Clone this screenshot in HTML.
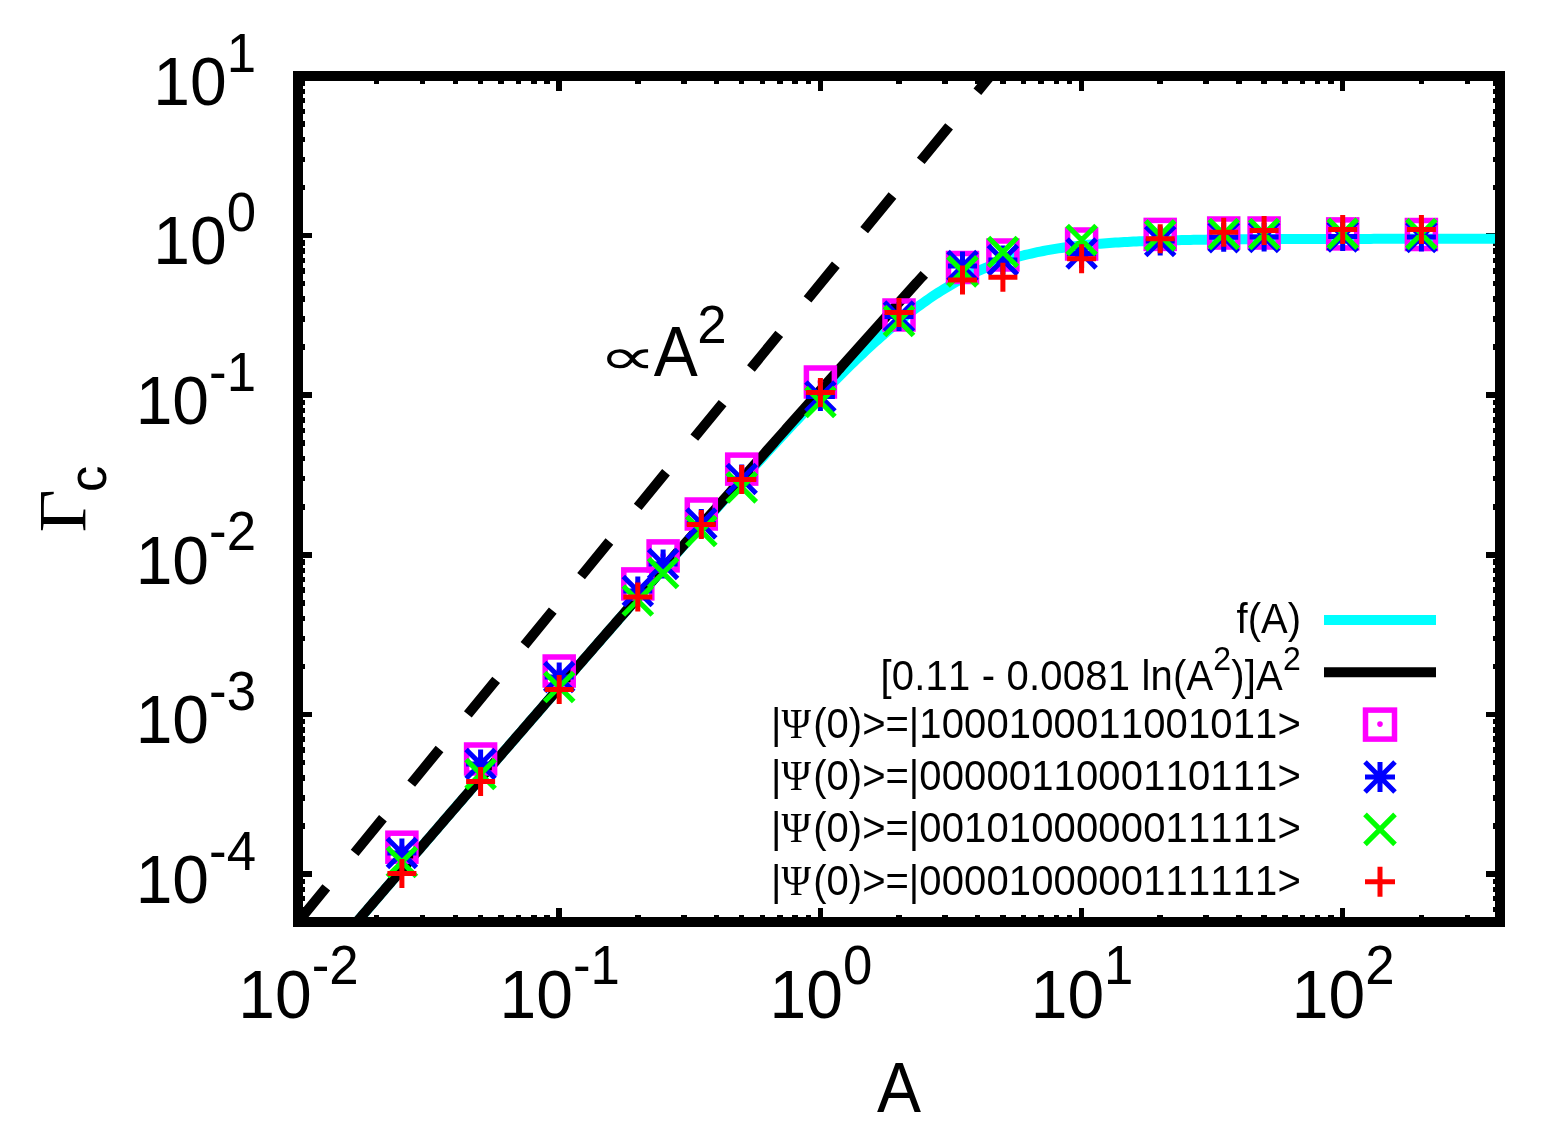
<!DOCTYPE html><html><head><meta charset="utf-8"><title>Gamma_c vs A</title>
<style>html,body{margin:0;padding:0;background:#fff;overflow:hidden}svg{display:block}text{font-family:"Liberation Sans",Arial,sans-serif;font-kerning:none;font-variant-ligatures:none;font-feature-settings:"kern" 0,"liga" 0}.sy{font-family:"Liberation Serif","DejaVu Serif",serif}.dj{font-family:"DejaVu Sans",sans-serif}</style></head><body>
<svg width="1545" height="1141" viewBox="0 0 1545 1141">
<rect width="1545" height="1141" fill="#fff"/>
<path d="M298.0 922.0V908.0M298.0 76.0V90.5M376.6 922.0V915.0M376.6 76.0V84.0M422.6 922.0V915.0M422.6 76.0V84.0M455.3 922.0V915.0M455.3 76.0V84.0M480.6 922.0V915.0M480.6 76.0V84.0M501.2 922.0V915.0M501.2 76.0V84.0M518.7 922.0V915.0M518.7 76.0V84.0M533.9 922.0V915.0M533.9 76.0V84.0M547.2 922.0V915.0M547.2 76.0V84.0M559.2 922.0V908.0M559.2 76.0V90.5M637.8 922.0V915.0M637.8 76.0V84.0M683.8 922.0V915.0M683.8 76.0V84.0M716.4 922.0V915.0M716.4 76.0V84.0M741.7 922.0V915.0M741.7 76.0V84.0M762.4 922.0V915.0M762.4 76.0V84.0M779.9 922.0V915.0M779.9 76.0V84.0M795.1 922.0V915.0M795.1 76.0V84.0M808.4 922.0V915.0M808.4 76.0V84.0M820.4 922.0V908.0M820.4 76.0V90.5M899.0 922.0V915.0M899.0 76.0V84.0M945.0 922.0V915.0M945.0 76.0V84.0M977.6 922.0V915.0M977.6 76.0V84.0M1002.9 922.0V915.0M1002.9 76.0V84.0M1023.6 922.0V915.0M1023.6 76.0V84.0M1041.1 922.0V915.0M1041.1 76.0V84.0M1056.3 922.0V915.0M1056.3 76.0V84.0M1069.6 922.0V915.0M1069.6 76.0V84.0M1081.6 922.0V908.0M1081.6 76.0V90.5M1160.2 922.0V915.0M1160.2 76.0V84.0M1206.2 922.0V915.0M1206.2 76.0V84.0M1238.8 922.0V915.0M1238.8 76.0V84.0M1264.1 922.0V915.0M1264.1 76.0V84.0M1284.8 922.0V915.0M1284.8 76.0V84.0M1302.3 922.0V915.0M1302.3 76.0V84.0M1317.4 922.0V915.0M1317.4 76.0V84.0M1330.8 922.0V915.0M1330.8 76.0V84.0M1342.7 922.0V908.0M1342.7 76.0V90.5M1421.4 922.0V915.0M1421.4 76.0V84.0M1467.4 922.0V915.0M1467.4 76.0V84.0M1500.0 922.0V915.0M1500.0 76.0V84.0M298.0 922.0H305.0M1500.0 922.0H1493.0M298.0 909.4H305.0M1500.0 909.4H1493.0M298.0 898.7H305.0M1500.0 898.7H1493.0M298.0 889.5H305.0M1500.0 889.5H1493.0M298.0 881.3H305.0M1500.0 881.3H1493.0M298.0 874.0H312.0M1500.0 874.0H1486.0M298.0 826.0H305.0M1500.0 826.0H1493.0M298.0 797.9H305.0M1500.0 797.9H1493.0M298.0 777.9H305.0M1500.0 777.9H1493.0M298.0 762.4H305.0M1500.0 762.4H1493.0M298.0 749.8H305.0M1500.0 749.8H1493.0M298.0 739.1H305.0M1500.0 739.1H1493.0M298.0 729.9H305.0M1500.0 729.9H1493.0M298.0 721.7H305.0M1500.0 721.7H1493.0M298.0 714.4H312.0M1500.0 714.4H1486.0M298.0 666.4H305.0M1500.0 666.4H1493.0M298.0 638.3H305.0M1500.0 638.3H1493.0M298.0 618.3H305.0M1500.0 618.3H1493.0M298.0 602.8H305.0M1500.0 602.8H1493.0M298.0 590.2H305.0M1500.0 590.2H1493.0M298.0 579.5H305.0M1500.0 579.5H1493.0M298.0 570.3H305.0M1500.0 570.3H1493.0M298.0 562.1H305.0M1500.0 562.1H1493.0M298.0 554.8H312.0M1500.0 554.8H1486.0M298.0 506.8H305.0M1500.0 506.8H1493.0M298.0 478.7H305.0M1500.0 478.7H1493.0M298.0 458.7H305.0M1500.0 458.7H1493.0M298.0 443.2H305.0M1500.0 443.2H1493.0M298.0 430.6H305.0M1500.0 430.6H1493.0M298.0 419.9H305.0M1500.0 419.9H1493.0M298.0 410.7H305.0M1500.0 410.7H1493.0M298.0 402.5H305.0M1500.0 402.5H1493.0M298.0 395.2H312.0M1500.0 395.2H1486.0M298.0 347.2H305.0M1500.0 347.2H1493.0M298.0 319.1H305.0M1500.0 319.1H1493.0M298.0 299.1H305.0M1500.0 299.1H1493.0M298.0 283.6H305.0M1500.0 283.6H1493.0M298.0 271.0H305.0M1500.0 271.0H1493.0M298.0 260.3H305.0M1500.0 260.3H1493.0M298.0 251.1H305.0M1500.0 251.1H1493.0M298.0 242.9H305.0M1500.0 242.9H1493.0M298.0 235.6H312.0M1500.0 235.6H1486.0M298.0 187.6H305.0M1500.0 187.6H1493.0M298.0 159.5H305.0M1500.0 159.5H1493.0M298.0 139.5H305.0M1500.0 139.5H1493.0M298.0 124.0H305.0M1500.0 124.0H1493.0M298.0 111.4H305.0M1500.0 111.4H1493.0M298.0 100.7H305.0M1500.0 100.7H1493.0M298.0 91.5H305.0M1500.0 91.5H1493.0M298.0 83.3H305.0M1500.0 83.3H1493.0M298.0 76.0H312.0M1500.0 76.0H1486.0" stroke="#000" stroke-width="5.5" fill="none" shape-rendering="crispEdges"/>
<defs><clipPath id="pa"><rect x="298.0" y="76.0" width="1202.0" height="846.0"/></clipPath></defs>
<g clip-path="url(#pa)">
<line x1="298.0" y1="922.0" x2="1003.21" y2="60.20" stroke="#000" stroke-width="10" stroke-dasharray="44.7 44.7"/>
<polyline points="298.00,990.37 301.00,986.87 304.01,983.37 307.02,979.87 310.02,976.36 313.02,972.86 316.03,969.36 319.03,965.86 322.04,962.36 325.05,958.86 328.05,955.36 331.06,951.86 334.06,948.37 337.07,944.87 340.07,941.37 343.07,937.87 346.08,934.38 349.08,930.88 352.09,927.39 355.10,923.89 358.10,920.40 361.11,916.90 364.11,913.41 367.12,909.92 370.12,906.42 373.12,902.93 376.13,899.44 379.13,895.95 382.14,892.46 385.14,888.97 388.15,885.48 391.15,881.99 394.16,878.50 397.17,875.01 400.17,871.52 403.18,868.04 406.18,864.55 409.19,861.06 412.19,857.58 415.20,854.09 418.20,850.61 421.20,847.12 424.21,843.64 427.22,840.16 430.22,836.67 433.23,833.19 436.23,829.71 439.24,826.23 442.24,822.75 445.25,819.27 448.25,815.79 451.25,812.31 454.26,808.83 457.27,805.35 460.27,801.88 463.27,798.40 466.28,794.92 469.28,791.45 472.29,787.97 475.30,784.50 478.30,781.02 481.31,777.55 484.31,774.08 487.32,770.61 490.32,767.14 493.33,763.67 496.33,760.20 499.33,756.73 502.34,753.26 505.35,749.79 508.35,746.32 511.36,742.85 514.36,739.39 517.37,735.92 520.37,732.46 523.38,728.99 526.38,725.53 529.38,722.07 532.39,718.61 535.39,715.14 538.40,711.68 541.40,708.22 544.41,704.76 547.42,701.31 550.42,697.85 553.42,694.39 556.43,690.94 559.43,687.48 562.44,684.03 565.45,680.57 568.45,677.12 571.45,673.67 574.46,670.22 577.47,666.77 580.47,663.32 583.48,659.87 586.48,656.42 589.49,652.97 592.49,649.53 595.50,646.08 598.50,642.64 601.50,639.20 604.51,635.76 607.52,632.32 610.52,628.88 613.53,625.44 616.53,622.00 619.53,618.56 622.54,615.13 625.55,611.70 628.55,608.26 631.56,604.83 634.56,601.40 637.57,597.97 640.57,594.55 643.58,591.12 646.58,587.70 649.59,584.27 652.59,580.85 655.60,577.43 658.60,574.01 661.61,570.60 664.61,567.18 667.62,563.77 670.62,560.36 673.62,556.95 676.63,553.54 679.63,550.14 682.64,546.73 685.64,543.33 688.65,539.93 691.66,536.54 694.66,533.14 697.66,529.75 700.67,526.36 703.68,522.98 706.68,519.59 709.68,516.21 712.69,512.84 715.70,509.46 718.70,506.09 721.70,502.72 724.71,499.36 727.72,496.00 730.72,492.64 733.72,489.29 736.73,485.94 739.74,482.60 742.74,479.26 745.75,475.93 748.75,472.60 751.76,469.27 754.76,465.96 757.76,462.64 760.77,459.34 763.78,456.04 766.78,452.74 769.79,449.45 772.79,446.17 775.80,442.90 778.80,439.64 781.81,436.38 784.81,433.13 787.82,429.89 790.82,426.66 793.83,423.44 796.83,420.23 799.84,417.03 802.84,413.84 805.85,410.66 808.85,407.50 811.86,404.34 814.86,401.20 817.87,398.07 820.87,394.96 823.88,391.86 826.88,388.78 829.88,385.72 832.89,382.67 835.90,379.63 838.90,376.62 841.90,373.62 844.91,370.65 847.92,367.69 850.92,364.76 853.93,361.85 856.93,358.96 859.94,356.09 862.94,353.25 865.94,350.44 868.95,347.65 871.96,344.89 874.96,342.15 877.96,339.45 880.97,336.77 883.98,334.13 886.98,331.51 889.99,328.93 892.99,326.39 896.00,323.88 899.00,321.40 902.00,318.96 905.01,316.55 908.02,314.19 911.02,311.86 914.02,309.57 917.03,307.33 920.04,305.12 923.04,302.95 926.04,300.83 929.05,298.75 932.06,296.71 935.06,294.71 938.06,292.76 941.07,290.86 944.08,289.00 947.08,287.18 950.09,285.41 953.09,283.68 956.10,282.00 959.10,280.36 962.11,278.77 965.11,277.22 968.12,275.72 971.12,274.26 974.12,272.85 977.13,271.48 980.14,270.15 983.14,268.86 986.14,267.62 989.15,266.42 992.16,265.26 995.16,264.14 998.16,263.06 1001.17,262.02 1004.18,261.01 1007.18,260.05 1010.19,259.11 1013.19,258.22 1016.20,257.36 1019.20,256.53 1022.20,255.73 1025.21,254.97 1028.22,254.24 1031.22,253.54 1034.22,252.86 1037.23,252.22 1040.24,251.60 1043.24,251.01 1046.24,250.44 1049.25,249.90 1052.26,249.38 1055.26,248.88 1058.26,248.41 1061.27,247.96 1064.28,247.52 1067.28,247.11 1070.28,246.72 1073.29,246.34 1076.30,245.98 1079.30,245.64 1082.30,245.31 1085.31,245.00 1088.32,244.70 1091.32,244.42 1094.33,244.15 1097.33,243.89 1100.34,243.65 1103.34,243.41 1106.35,243.19 1109.35,242.98 1112.36,242.78 1115.36,242.58 1118.36,242.40 1121.37,242.23 1124.38,242.06 1127.38,241.90 1130.38,241.75 1133.39,241.61 1136.39,241.47 1139.40,241.35 1142.40,241.22 1145.41,241.11 1148.41,240.99 1151.42,240.89 1154.43,240.79 1157.43,240.69 1160.44,240.60 1163.44,240.51 1166.45,240.43 1169.45,240.35 1172.45,240.28 1175.46,240.21 1178.46,240.14 1181.47,240.08 1184.47,240.02 1187.48,239.96 1190.49,239.90 1193.49,239.85 1196.50,239.80 1199.50,239.75 1202.51,239.71 1205.51,239.66 1208.52,239.62 1211.52,239.58 1214.53,239.55 1217.53,239.51 1220.54,239.48 1223.54,239.45 1226.55,239.42 1229.55,239.39 1232.56,239.36 1235.56,239.33 1238.57,239.31 1241.57,239.29 1244.58,239.26 1247.58,239.24 1250.59,239.22 1253.59,239.20 1256.60,239.18 1259.60,239.17 1262.61,239.15 1265.61,239.13 1268.62,239.12 1271.62,239.11 1274.62,239.09 1277.63,239.08 1280.64,239.07 1283.64,239.05 1286.64,239.04 1289.65,239.03 1292.66,239.02 1295.66,239.01 1298.66,239.00 1301.67,238.99 1304.68,238.99 1307.68,238.98 1310.68,238.97 1313.69,238.96 1316.70,238.96 1319.70,238.95 1322.70,238.94 1325.71,238.94 1328.72,238.93 1331.72,238.93 1334.73,238.92 1337.73,238.92 1340.74,238.91 1343.74,238.91 1346.75,238.90 1349.75,238.90 1352.76,238.89 1355.76,238.89 1358.76,238.89 1361.77,238.88 1364.78,238.88 1367.78,238.88 1370.78,238.88 1373.79,238.87 1376.80,238.87 1379.80,238.87 1382.81,238.86 1385.81,238.86 1388.82,238.86 1391.82,238.86 1394.83,238.86 1397.83,238.85 1400.84,238.85 1403.84,238.85 1406.85,238.85 1409.85,238.85 1412.86,238.85 1415.86,238.85 1418.87,238.84 1421.87,238.84 1424.88,238.84 1427.88,238.84 1430.88,238.84 1433.89,238.84 1436.89,238.84 1439.90,238.84 1442.91,238.84 1445.91,238.84 1448.92,238.83 1451.92,238.83 1454.92,238.83 1457.93,238.83 1460.94,238.83 1463.94,238.83 1466.94,238.83 1469.95,238.83 1472.96,238.83 1475.96,238.83 1478.96,238.83 1481.97,238.83 1484.98,238.83 1487.98,238.83 1490.98,238.84 1493.99,238.84 1497.00,238.84 1500.00,238.84" fill="none" stroke="#0ff" stroke-width="10" stroke-linejoin="round"/>
<polyline points="298.00,990.37 299.57,988.55 301.13,986.72 302.70,984.90 304.26,983.07 305.83,981.25 307.39,979.42 308.96,977.60 310.53,975.77 312.09,973.95 313.66,972.12 315.22,970.30 316.79,968.48 318.36,966.65 319.92,964.83 321.49,963.01 323.05,961.18 324.62,959.36 326.18,957.54 327.75,955.71 329.32,953.89 330.88,952.07 332.45,950.24 334.01,948.42 335.58,946.60 337.14,944.78 338.71,942.95 340.28,941.13 341.84,939.31 343.41,937.49 344.97,935.67 346.54,933.84 348.10,932.02 349.67,930.20 351.24,928.38 352.80,926.56 354.37,924.74 355.93,922.92 357.50,921.09 359.07,919.27 360.63,917.45 362.20,915.63 363.76,913.81 365.33,911.99 366.89,910.17 368.46,908.35 370.03,906.53 371.59,904.71 373.16,902.89 374.72,901.07 376.29,899.25 377.85,897.43 379.42,895.62 380.99,893.80 382.55,891.98 384.12,890.16 385.68,888.34 387.25,886.52 388.82,884.70 390.38,882.89 391.95,881.07 393.51,879.25 395.08,877.43 396.64,875.61 398.21,873.80 399.78,871.98 401.34,870.16 402.91,868.34 404.47,866.53 406.04,864.71 407.60,862.89 409.17,861.08 410.74,859.26 412.30,857.44 413.87,855.63 415.43,853.81 417.00,852.00 418.56,850.18 420.13,848.36 421.70,846.55 423.26,844.73 424.83,842.92 426.39,841.10 427.96,839.29 429.53,837.47 431.09,835.66 432.66,833.84 434.22,832.03 435.79,830.22 437.35,828.40 438.92,826.59 440.49,824.77 442.05,822.96 443.62,821.15 445.18,819.33 446.75,817.52 448.31,815.71 449.88,813.89 451.45,812.08 453.01,810.27 454.58,808.46 456.14,806.64 457.71,804.83 459.28,803.02 460.84,801.21 462.41,799.40 463.97,797.58 465.54,795.77 467.10,793.96 468.67,792.15 470.24,790.34 471.80,788.53 473.37,786.72 474.93,784.91 476.50,783.10 478.06,781.29 479.63,779.48 481.20,777.67 482.76,775.86 484.33,774.05 485.89,772.24 487.46,770.43 489.03,768.62 490.59,766.81 492.16,765.00 493.72,763.19 495.29,761.38 496.85,759.58 498.42,757.77 499.99,755.96 501.55,754.15 503.12,752.34 504.68,750.54 506.25,748.73 507.81,746.92 509.38,745.11 510.95,743.31 512.51,741.50 514.08,739.69 515.64,737.89 517.21,736.08 518.77,734.28 520.34,732.47 521.91,730.66 523.47,728.86 525.04,727.05 526.60,725.25 528.17,723.44 529.74,721.64 531.30,719.83 532.87,718.03 534.43,716.22 536.00,714.42 537.56,712.62 539.13,710.81 540.70,709.01 542.26,707.21 543.83,705.40 545.39,703.60 546.96,701.80 548.52,699.99 550.09,698.19 551.66,696.39 553.22,694.59 554.79,692.78 556.35,690.98 557.92,689.18 559.49,687.38 561.05,685.58 562.62,683.78 564.18,681.97 565.75,680.17 567.31,678.37 568.88,676.57 570.45,674.77 572.01,672.97 573.58,671.17 575.14,669.37 576.71,667.57 578.27,665.77 579.84,663.97 581.41,662.18 582.97,660.38 584.54,658.58 586.10,656.78 587.67,654.98 589.23,653.18 590.80,651.39 592.37,649.59 593.93,647.79 595.50,645.99 597.06,644.20 598.63,642.40 600.20,640.60 601.76,638.81 603.33,637.01 604.89,635.21 606.46,633.42 608.02,631.62 609.59,629.83 611.16,628.03 612.72,626.24 614.29,624.44 615.85,622.65 617.42,620.85 618.98,619.06 620.55,617.26 622.12,615.47 623.68,613.68 625.25,611.88 626.81,610.09 628.38,608.30 629.95,606.50 631.51,604.71 633.08,602.92 634.64,601.13 636.21,599.34 637.77,597.54 639.34,595.75 640.91,593.96 642.47,592.17 644.04,590.38 645.60,588.59 647.17,586.80 648.73,585.01 650.30,583.22 651.87,581.43 653.43,579.64 655.00,577.85 656.56,576.06 658.13,574.27 659.69,572.48 661.26,570.69 662.83,568.91 664.39,567.12 665.96,565.33 667.52,563.54 669.09,561.76 670.66,559.97 672.22,558.18 673.79,556.40 675.35,554.61 676.92,552.82 678.48,551.04 680.05,549.25 681.62,547.47 683.18,545.68 684.75,543.90 686.31,542.11 687.88,540.33 689.44,538.54 691.01,536.76 692.58,534.97 694.14,533.19 695.71,531.41 697.27,529.62 698.84,527.84 700.41,526.06 701.97,524.28 703.54,522.50 705.10,520.71 706.67,518.93 708.23,517.15 709.80,515.37 711.37,513.59 712.93,511.81 714.50,510.03 716.06,508.25 717.63,506.47 719.19,504.69 720.76,502.91 722.33,501.13 723.89,499.35 725.46,497.57 727.02,495.80 728.59,494.02 730.16,492.24 731.72,490.46 733.29,488.69 734.85,486.91 736.42,485.13 737.98,483.36 739.55,481.58 741.12,479.80 742.68,478.03 744.25,476.25 745.81,474.48 747.38,472.70 748.94,470.93 750.51,469.16 752.08,467.38 753.64,465.61 755.21,463.84 756.77,462.06 758.34,460.29 759.90,458.52 761.47,456.75 763.04,454.97 764.60,453.20 766.17,451.43 767.73,449.66 769.30,447.89 770.87,446.12 772.43,444.35 774.00,442.58 775.56,440.81 777.13,439.04 778.69,437.27 780.26,435.50 781.83,433.74 783.39,431.97 784.96,430.20 786.52,428.43 788.09,426.67 789.65,424.90 791.22,423.13 792.79,421.37 794.35,419.60 795.92,417.84 797.48,416.07 799.05,414.31 800.62,412.54 802.18,410.78 803.75,409.01 805.31,407.25 806.88,405.49 808.44,403.72 810.01,401.96 811.58,400.20 813.14,398.44 814.71,396.68 816.27,394.91 817.84,393.15 819.40,391.39 820.97,389.63 822.54,387.87 824.10,386.11 825.67,384.35 827.23,382.60 828.80,380.84 830.36,379.08 831.93,377.32 833.50,375.56 835.06,373.81 836.63,372.05 838.19,370.29 839.76,368.54 841.33,366.78 842.89,365.03 844.46,363.27 846.02,361.52 847.59,359.76 849.15,358.01 850.72,356.26 852.29,354.50 853.85,352.75 855.42,351.00 856.98,349.25 858.55,347.49 860.11,345.74 861.68,343.99 863.25,342.24 864.81,340.49 866.38,338.74 867.94,336.99 869.51,335.24 871.08,333.50 872.64,331.75 874.21,330.00 875.77,328.25 877.34,326.51 878.90,324.76 880.47,323.01 882.04,321.27 883.60,319.52 885.17,317.78 886.73,316.03 888.30,314.29 889.86,312.54 891.43,310.80 893.00,309.06 894.56,307.32 896.13,305.57 897.69,303.83 899.26,302.09 900.82,300.35 902.39,298.61 903.96,296.87 905.52,295.13 907.09,293.39 908.65,291.65 910.22,289.92 911.79,288.18 913.35,286.44 914.92,284.70 916.48,282.97 918.05,281.23 919.61,279.50 921.18,277.76 922.75,276.03 924.31,274.29" fill="none" stroke="#000" stroke-width="10" stroke-linejoin="round"/>
</g>
<rect x="387.9" y="833.2" width="28.0" height="28.0" fill="none" stroke="#f0f" stroke-width="5.5"/><circle cx="401.9" cy="846.7" r="2.8" fill="#f0f"/><rect x="466.6" y="745.0" width="28.0" height="28.0" fill="none" stroke="#f0f" stroke-width="5.5"/><circle cx="480.6" cy="758.5" r="2.8" fill="#f0f"/><rect x="545.2" y="657.0" width="28.0" height="28.0" fill="none" stroke="#f0f" stroke-width="5.5"/><circle cx="559.2" cy="670.5" r="2.8" fill="#f0f"/><rect x="623.8" y="569.9" width="28.0" height="28.0" fill="none" stroke="#f0f" stroke-width="5.5"/><circle cx="637.8" cy="583.4" r="2.8" fill="#f0f"/><rect x="649.1" y="541.9" width="28.0" height="28.0" fill="none" stroke="#f0f" stroke-width="5.5"/><circle cx="663.1" cy="555.4" r="2.8" fill="#f0f"/><rect x="687.3" y="500.0" width="28.0" height="28.0" fill="none" stroke="#f0f" stroke-width="5.5"/><circle cx="701.3" cy="513.5" r="2.8" fill="#f0f"/><rect x="727.7" y="455.1" width="28.0" height="28.0" fill="none" stroke="#f0f" stroke-width="5.5"/><circle cx="741.7" cy="468.6" r="2.8" fill="#f0f"/><rect x="806.4" y="368.0" width="28.0" height="28.0" fill="none" stroke="#f0f" stroke-width="5.5"/><circle cx="820.4" cy="381.5" r="2.8" fill="#f0f"/><rect x="885.0" y="301.0" width="28.0" height="28.0" fill="none" stroke="#f0f" stroke-width="5.5"/><circle cx="899.0" cy="314.5" r="2.8" fill="#f0f"/><rect x="948.5" y="253.5" width="28.0" height="28.0" fill="none" stroke="#f0f" stroke-width="5.5"/><circle cx="962.5" cy="267.0" r="2.8" fill="#f0f"/><rect x="988.9" y="241.0" width="28.0" height="28.0" fill="none" stroke="#f0f" stroke-width="5.5"/><circle cx="1002.9" cy="254.5" r="2.8" fill="#f0f"/><rect x="1067.6" y="230.0" width="28.0" height="28.0" fill="none" stroke="#f0f" stroke-width="5.5"/><circle cx="1081.6" cy="243.5" r="2.8" fill="#f0f"/><rect x="1146.2" y="220.4" width="28.0" height="28.0" fill="none" stroke="#f0f" stroke-width="5.5"/><circle cx="1160.2" cy="233.9" r="2.8" fill="#f0f"/><rect x="1209.7" y="219.0" width="28.0" height="28.0" fill="none" stroke="#f0f" stroke-width="5.5"/><circle cx="1223.7" cy="232.5" r="2.8" fill="#f0f"/><rect x="1250.1" y="219.0" width="28.0" height="28.0" fill="none" stroke="#f0f" stroke-width="5.5"/><circle cx="1264.1" cy="232.5" r="2.8" fill="#f0f"/><rect x="1328.7" y="219.9" width="28.0" height="28.0" fill="none" stroke="#f0f" stroke-width="5.5"/><circle cx="1342.7" cy="233.4" r="2.8" fill="#f0f"/><rect x="1407.4" y="220.5" width="28.0" height="28.0" fill="none" stroke="#f0f" stroke-width="5.5"/><circle cx="1421.4" cy="234.0" r="2.8" fill="#f0f"/><path d="M387.4 853.0H416.4M401.9 838.5V867.5M387.4 838.5L416.4 867.5M387.4 867.5L416.4 838.5M466.1 764.0H495.1M480.6 749.5V778.5M466.1 749.5L495.1 778.5M466.1 778.5L495.1 749.5M544.7 677.0H573.7M559.2 662.5V691.5M544.7 662.5L573.7 691.5M544.7 691.5L573.7 662.5M623.3 591.0H652.3M637.8 576.5V605.5M623.3 576.5L652.3 605.5M623.3 605.5L652.3 576.5M648.6 564.0H677.6M663.1 549.5V578.5M648.6 549.5L677.6 578.5M648.6 578.5L677.6 549.5M686.8 523.5H715.8M701.3 509.0V538.0M686.8 509.0L715.8 538.0M686.8 538.0L715.8 509.0M727.2 479.0H756.2M741.7 464.5V493.5M727.2 464.5L756.2 493.5M727.2 493.5L756.2 464.5M805.9 396.5H834.9M820.4 382.0V411.0M805.9 382.0L834.9 411.0M805.9 411.0L834.9 382.0M884.5 316.5H913.5M899.0 302.0V331.0M884.5 302.0L913.5 331.0M884.5 331.0L913.5 302.0M948.0 266.0H977.0M962.5 251.5V280.5M948.0 251.5L977.0 280.5M948.0 280.5L977.0 251.5M988.4 260.0H1017.4M1002.9 245.5V274.5M988.4 245.5L1017.4 274.5M988.4 274.5L1017.4 245.5M1067.1 253.4H1096.1M1081.6 238.9V267.9M1067.1 238.9L1096.1 267.9M1067.1 267.9L1096.1 238.9M1145.7 241.0H1174.7M1160.2 226.5V255.5M1145.7 226.5L1174.7 255.5M1145.7 255.5L1174.7 226.5M1209.2 237.2H1238.2M1223.7 222.7V251.7M1209.2 222.7L1238.2 251.7M1209.2 251.7L1238.2 222.7M1249.6 237.0H1278.6M1264.1 222.5V251.5M1249.6 222.5L1278.6 251.5M1249.6 251.5L1278.6 222.5M1328.2 236.5H1357.2M1342.7 222.0V251.0M1328.2 222.0L1357.2 251.0M1328.2 251.0L1357.2 222.0M1406.9 237.0H1435.9M1421.4 222.5V251.5M1406.9 222.5L1435.9 251.5M1406.9 251.5L1435.9 222.5" stroke="#00f" stroke-width="5" fill="none"/><path d="M387.4 847.5L416.4 876.5M387.4 876.5L416.4 847.5M466.1 759.5L495.1 788.5M466.1 788.5L495.1 759.5M544.7 672.5L573.7 701.5M544.7 701.5L573.7 672.5M623.3 586.0L652.3 615.0M623.3 615.0L652.3 586.0M648.6 558.5L677.6 587.5M648.6 587.5L677.6 558.5M686.8 516.5L715.8 545.5M686.8 545.5L715.8 516.5M727.2 472.9L756.2 501.9M727.2 501.9L756.2 472.9M805.9 387.5L834.9 416.5M805.9 416.5L834.9 387.5M884.5 306.5L913.5 335.5M884.5 335.5L913.5 306.5M948.0 256.9L977.0 285.9M948.0 285.9L977.0 256.9M988.4 237.5L1017.4 266.5M988.4 266.5L1017.4 237.5M1067.1 225.5L1096.1 254.5M1067.1 254.5L1096.1 225.5M1145.7 220.9L1174.7 249.9M1145.7 249.9L1174.7 220.9M1209.2 219.5L1238.2 248.5M1209.2 248.5L1238.2 219.5M1249.6 219.5L1278.6 248.5M1249.6 248.5L1278.6 219.5M1328.2 219.2L1357.2 248.2M1328.2 248.2L1357.2 219.2M1406.9 219.5L1435.9 248.5M1406.9 248.5L1435.9 219.5" stroke="#0f0" stroke-width="5.2" fill="none"/><path d="M387.4 873.5H416.4M401.9 859.0V888.0M466.1 781.5H495.1M480.6 767.0V796.0M544.7 689.5H573.7M559.2 675.0V704.0M623.3 597.0H652.3M637.8 582.5V611.5M686.8 524.5H715.8M701.3 510.0V539.0M727.2 479.6H756.2M741.7 465.1V494.1M805.9 392.5H834.9M820.4 378.0V407.0M884.5 312.5H913.5M899.0 298.0V327.0M948.0 280.0H977.0M962.5 265.5V294.5M988.4 277.3H1017.4M1002.9 262.8V291.8M1067.1 258.7H1096.1M1081.6 244.2V273.2M1145.7 238.8H1174.7M1160.2 224.3V253.3M1209.2 232.2H1238.2M1223.7 217.7V246.7M1249.6 230.5H1278.6M1264.1 216.0V245.0M1328.2 229.4H1357.2M1342.7 214.9V243.9M1406.9 229.4H1435.9M1421.4 214.9V243.9" stroke="#f00" stroke-width="5" fill="none"/>
<rect x="298.0" y="76.0" width="1202.0" height="846.0" fill="none" stroke="#000" stroke-width="10" shape-rendering="crispEdges"/>
<text transform="translate(256.0,902.8) scale(1,1.035)" font-size="66" text-anchor="end">10<tspan dy="-32" font-size="52.8">-4</tspan></text>
<text transform="translate(256.0,743.2) scale(1,1.035)" font-size="66" text-anchor="end">10<tspan dy="-32" font-size="52.8">-3</tspan></text>
<text transform="translate(256.0,583.6) scale(1,1.035)" font-size="66" text-anchor="end">10<tspan dy="-32" font-size="52.8">-2</tspan></text>
<text transform="translate(256.0,424.0) scale(1,1.035)" font-size="66" text-anchor="end">10<tspan dy="-32" font-size="52.8">-1</tspan></text>
<text transform="translate(256.0,264.4) scale(1,1.035)" font-size="66" text-anchor="end">10<tspan dy="-32" font-size="52.8">0</tspan></text>
<text transform="translate(256.0,104.8) scale(1,1.035)" font-size="66" text-anchor="end">10<tspan dy="-32" font-size="52.8">1</tspan></text>
<text transform="translate(298.5,1017.6) scale(1,1.035)" font-size="66" text-anchor="middle">10<tspan dy="-32" font-size="52.8">-2</tspan></text>
<text transform="translate(559.7,1017.6) scale(1,1.035)" font-size="66" text-anchor="middle">10<tspan dy="-32" font-size="52.8">-1</tspan></text>
<text transform="translate(820.9,1017.6) scale(1,1.035)" font-size="66" text-anchor="middle">10<tspan dy="-32" font-size="52.8">0</tspan></text>
<text transform="translate(1082.1,1017.6) scale(1,1.035)" font-size="66" text-anchor="middle">10<tspan dy="-32" font-size="52.8">1</tspan></text>
<text transform="translate(1343.2,1017.6) scale(1,1.035)" font-size="66" text-anchor="middle">10<tspan dy="-32" font-size="52.8">2</tspan></text>
<text transform="translate(876.9,1111.9) scale(1,1.077)" font-size="66">A</text>
<g transform="translate(85,532.6) rotate(-90)"><text transform="scale(1.1,1)" x="0" y="0" class="sy" font-size="68">&#915;</text><text x="40.6" y="21" font-size="52.8">c</text></g>
<text class="dj" transform="translate(598.3,373.7) scale(1.62,1)" font-size="50.7">&#8733;</text>
<text transform="translate(653.8,376) scale(1,1.08)" font-size="66">A</text>
<text x="697.3" y="342.7" font-size="52.8">2</text>
<text transform="translate(1301,633.0) scale(1,1.05)" font-size="40" text-anchor="end">f(A)</text>
<text transform="translate(1301,689.7) scale(1,1.05)" font-size="40" text-anchor="end" letter-spacing="0.2">[0.11 - 0.0081 ln(A<tspan dy="-19" font-size="32">2</tspan><tspan dy="19">)]A</tspan><tspan dy="-19" font-size="32">2</tspan></text>
<text transform="translate(1301,737.6) scale(1,1.05)" font-size="40" text-anchor="end">|<tspan class="sy">&#936;</tspan><tspan dx="2.3">(0)&gt;=|</tspan><tspan letter-spacing="0.15">1000100011001011&gt;</tspan></text>
<text transform="translate(1301,790.0) scale(1,1.05)" font-size="40" text-anchor="end">|<tspan class="sy">&#936;</tspan><tspan dx="2.3">(0)&gt;=|</tspan><tspan letter-spacing="0.15">0000011000110111&gt;</tspan></text>
<text transform="translate(1301,842.4) scale(1,1.05)" font-size="40" text-anchor="end">|<tspan class="sy">&#936;</tspan><tspan dx="2.3">(0)&gt;=|</tspan><tspan letter-spacing="0.15">0010100000011111&gt;</tspan></text>
<text transform="translate(1301,894.8) scale(1,1.05)" font-size="40" text-anchor="end">|<tspan class="sy">&#936;</tspan><tspan dx="2.3">(0)&gt;=|</tspan><tspan letter-spacing="0.15">0000100000111111&gt;</tspan></text>
<path d="M1324 620H1436" stroke="#0ff" stroke-width="10"/>
<path d="M1324 672.2H1436" stroke="#000" stroke-width="10"/>
<rect x="1365.5" y="710.1" width="29.0" height="29.0" fill="none" stroke="#f0f" stroke-width="5.5"/><circle cx="1380.0" cy="724.1" r="2.8" fill="#f0f"/>
<path d="M1365.0 777.0H1395.0M1380.0 762.0V792.0M1365.0 762.0L1395.0 792.0M1365.0 792.0L1395.0 762.0" stroke="#00f" stroke-width="5" fill="none"/>
<path d="M1365.0 814.4L1395.0 844.4M1365.0 844.4L1395.0 814.4" stroke="#0f0" stroke-width="5.2" fill="none"/>
<path d="M1365.0 881.8H1395.0M1380.0 866.8V896.8" stroke="#f00" stroke-width="5" fill="none"/>
</svg></body></html>
